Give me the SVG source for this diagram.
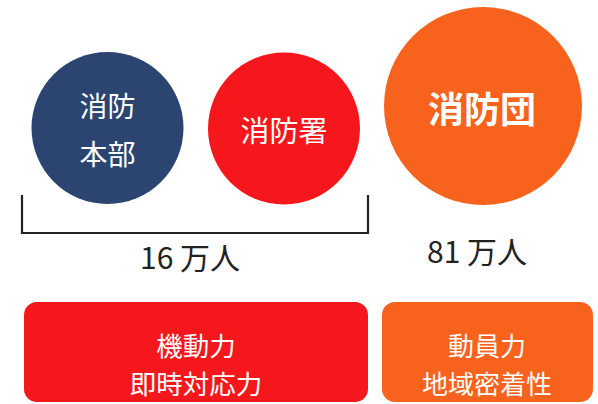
<svg xmlns="http://www.w3.org/2000/svg" width="598" height="404" viewBox="0 0 598 404">
<style>
text{font-family:"Noto Sans CJK JP","Noto Sans",sans-serif;text-anchor:middle;dominant-baseline:central}
.w{fill:#ffffff}
.k{fill:#222222}
.navy{fill:#2c4470}
.red{fill:#f5171b}
.orange{fill:#f7621d}
</style>
<rect width="598" height="404" fill="#ffffff"/>
<g id="honbu">
<circle class="navy" cx="107.5" cy="128" r="76"/>
<text class="w" x="107.5" y="105" font-size="28">消防</text>
<text class="w" x="107.5" y="153" font-size="28">本部</text>
</g>
<g id="shobosho">
<circle class="red" cx="284" cy="128.5" r="76"/>
<text class="w" x="284" y="129" font-size="29">消防署</text>
</g>
<g id="shobodan">
<circle class="orange" cx="483" cy="106" r="99"/>
<text class="w" x="482" y="107" font-size="36" font-weight="bold">消防団</text>
</g>
<g id="connectors">
<path d="M22 195 V233 H368 V195" fill="none" stroke="#222222" stroke-width="2.2"/>
</g>
<g id="label16">
<text class="k" x="190" y="256" font-size="30">16 万人</text>
</g>
<g id="label81">
<text class="k" x="477" y="250" font-size="30">81 万人</text>
</g>
<g id="box-red">
<rect class="red" x="24" y="302" width="344" height="100" rx="13"/>
<text class="w" x="196" y="344" font-size="26.5">機動力</text>
<text class="w" x="196" y="382" font-size="26.5">即時対応力</text>
</g>
<g id="box-orange">
<rect class="orange" x="382" y="302" width="211" height="100" rx="13"/>
<text class="w" x="487" y="344" font-size="26">動員力</text>
<text class="w" x="487" y="382" font-size="26">地域密着性</text>
</g>
</svg>
